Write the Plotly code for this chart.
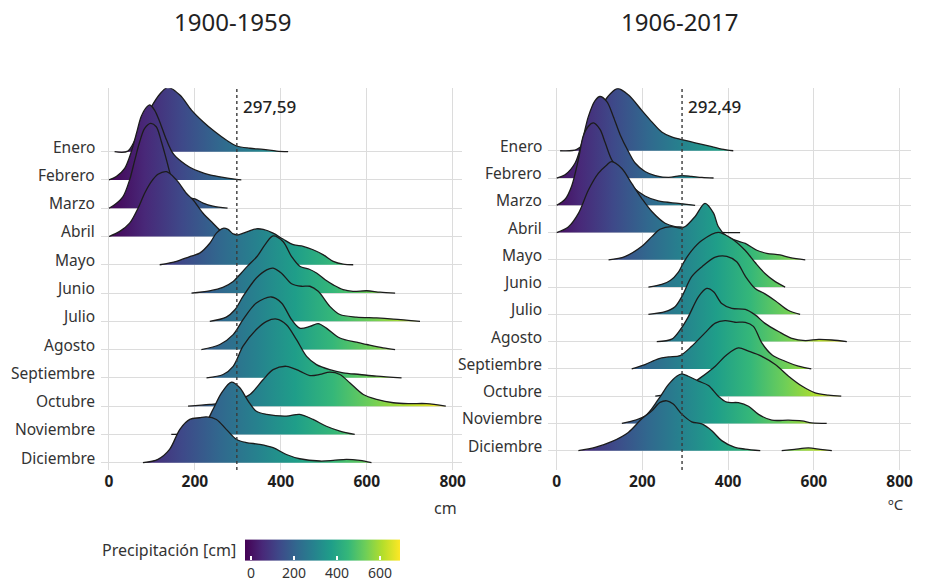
import plotly.graph_objects as go
import plotly.colors as pc

MONTHS = ["Enero", "Febrero", "Marzo", "Abril", "Mayo", "Junio", "Julio",
          "Agosto", "Septiembre", "Octubre", "Noviembre", "Diciembre"]

# ---- 1900-1959 : ridge outlines (x in cm, height in row units) ----
LEFT_X = [
    [13, 44, 71, 103, 122, 137, 165, 192, 219, 246, 273, 297, 328, 359, 390, 417],
    [0, 17, 36.5, 52, 64, 75, 87, 95, 106, 118, 134, 149, 168.5, 188, 211, 234.5, 265.6, 297, 308],
    [0, 13, 32.6, 48, 60, 71.5, 83, 97, 110, 122, 134, 145, 161, 180, 200, 219, 242, 276],
    [0, 25, 48, 67.6, 83, 98.6, 114, 134, 157, 180, 196, 219, 242, 262, 281, 300.6],
    [118, 157, 188, 211, 234.6, 250, 265.6, 277, 289, 300.6, 308, 324, 343, 359, 382, 405, 429, 452, 475, 499, 522, 545, 568.5],
    [192, 234, 265, 289, 308, 323, 345, 365, 382, 405, 425, 444, 465, 483, 505, 522, 545, 568, 600, 631, 666],
    [234.6, 273, 293, 312, 343, 367, 382, 401.6, 425, 448, 467.6, 487, 514, 537.5, 576, 623, 662, 724],
    [215, 258, 289, 312, 343, 378, 401.6, 425, 444, 467.6, 487, 506, 537.5, 576, 600, 638, 666],
    [227, 265.6, 289, 312, 343, 367, 390, 413, 436.5, 460, 483, 514, 545, 584, 623, 681],
    [184, 234.6, 273, 304.5, 328, 359, 382, 413, 444, 467.6, 491, 514, 537.5, 561, 592, 623, 662, 700.6, 739, 784],
    [145, 196, 223, 242, 262, 285, 304.5, 324, 343, 367, 413, 444, 475, 506, 537.5, 572],
    [79, 114, 141, 165, 188, 211, 227, 250, 273, 297, 320, 351, 382, 413, 444, 491, 522, 553, 584, 611],
]
LEFT_H = [
    [0, 0.02, 0.76, 1.7, 2.1, 2.27, 2.0, 1.47, 1.06, 0.71, 0.41, 0.2, 0.12, 0.08, 0.02, 0],
    [0, 0.12, 0.41, 1.0, 1.65, 2.24, 2.565, 2.65, 2.47, 2.06, 1.41, 0.94, 0.65, 0.45, 0.29, 0.18, 0.09, 0.02, 0],
    [0, 0.12, 0.41, 1.0, 1.7, 2.35, 2.82, 3.0, 2.88, 2.35, 1.7, 1.1, 0.65, 0.4, 0.33, 0.18, 0.07, 0],
    [0, 0.18, 0.47, 1.0, 1.53, 1.94, 2.2, 2.29, 2.0, 1.53, 1.29, 0.82, 0.47, 0.18, 0.05, 0],
    [0, 0.12, 0.29, 0.41, 0.76, 1.12, 1.29, 1.25, 1.09, 1.06, 1.09, 1.18, 1.27, 1.25, 1.12, 0.91, 0.71, 0.65, 0.53, 0.35, 0.12, 0.02, 0],
    [0, 0.08, 0.2, 0.41, 0.71, 0.96, 1.3, 1.75, 2.02, 1.82, 1.29, 0.95, 0.85, 0.71, 0.45, 0.29, 0.12, 0.06, 0.08, 0.03, 0],
    [0, 0.15, 0.41, 0.88, 1.53, 1.82, 1.88, 1.7, 1.33, 1.24, 1.24, 1.06, 0.53, 0.24, 0.15, 0.12, 0.08, 0],
    [0, 0.18, 0.53, 1.06, 1.65, 1.86, 1.65, 1.06, 0.76, 0.82, 0.92, 0.76, 0.41, 0.26, 0.18, 0.06, 0],
    [0, 0.12, 0.41, 1.12, 1.71, 2.0, 2.08, 1.88, 1.35, 0.76, 0.47, 0.29, 0.18, 0.12, 0.06, 0],
    [0, 0.06, 0.12, 0.24, 0.41, 0.94, 1.29, 1.41, 1.24, 1.08, 1.12, 1.2, 1.12, 0.82, 0.41, 0.24, 0.12, 0.09, 0.09, 0],
    [0, 0.06, 0.35, 0.88, 1.47, 1.85, 1.65, 1.18, 0.82, 0.71, 0.65, 0.71, 0.53, 0.29, 0.12, 0],
    [0, 0.12, 0.47, 1.18, 1.53, 1.59, 1.62, 1.53, 1.18, 0.82, 0.71, 0.65, 0.53, 0.29, 0.14, 0.06, 0.08, 0.12, 0.08, 0],
]

# ---- 1906-2017 ----
RIGHT_X = [
    [8, 47, 74, 97, 120, 142, 167, 198, 222, 245, 268, 292, 323, 362, 385, 412],
    [0, 19.5, 43, 58.4, 74, 89.5, 101, 117, 132, 148, 167, 183, 206, 230, 261, 292, 315, 339, 366],
    [0, 19.5, 35, 50.6, 62, 74, 85.6, 101, 113, 128, 148, 175, 206, 237, 284, 323],
    [0, 27, 51, 74, 97, 117, 128, 152, 175, 198, 222, 253, 276, 292, 315, 346, 377, 428],
    [121, 159, 198, 222, 241, 268, 288, 300, 323, 346, 366, 377, 397, 420, 440, 467, 490, 521, 545, 580],
    [214, 245, 265, 284, 296, 315, 338.5, 377, 408.6, 440, 463, 486, 510, 533],
    [214, 253, 276, 292, 315, 338.5, 370, 397, 420, 440, 463, 486, 510, 540, 568],
    [233.5, 268.5, 288, 307, 331, 350, 366, 385, 408.6, 440, 463, 486, 517.5, 548.6, 580, 611, 642, 677],
    [175, 206, 237, 261, 288, 315, 346, 370, 393, 416, 440, 459, 478.6, 502, 533, 564, 594],
    [230, 280, 310, 335, 370, 397, 424, 447.5, 478.6, 510, 541, 572, 603, 634, 664],
    [152, 206, 237, 261, 280, 292, 307, 331, 354, 377, 397, 424, 447.5, 471, 502, 541, 572, 595, 630],
    [50.6, 89.5, 128, 167, 198, 222, 241, 257, 272, 292, 315, 338.5, 362, 385, 416, 440, 475],
]
RIGHT_H = [
    [0, 0.05, 0.5, 1.4, 2.0, 2.28, 2.05, 1.49, 1.06, 0.69, 0.51, 0.41, 0.29, 0.15, 0.06, 0],
    [0, 0.12, 0.55, 1.28, 2.26, 2.84, 2.99, 2.8, 2.26, 1.59, 0.98, 0.55, 0.24, 0.09, 0.02, 0.09, 0.06, 0.02, 0],
    [0, 0.22, 0.71, 1.68, 2.54, 2.9, 3.02, 2.78, 2.3, 1.68, 1.25, 0.71, 0.34, 0.16, 0.07, 0],
    [0, 0.2, 0.71, 1.56, 2.17, 2.48, 2.6, 2.35, 1.8, 1.26, 0.77, 0.34, 0.22, 0.2, 0.1, 0.04, 0.01, 0],
    [0, 0.12, 0.49, 0.85, 1.12, 1.22, 1.16, 1.22, 1.59, 2.07, 1.71, 1.22, 0.85, 0.7, 0.6, 0.35, 0.24, 0.18, 0.08, 0],
    [0, 0.1, 0.24, 0.55, 0.9, 1.34, 1.71, 2.01, 1.77, 1.34, 0.9, 0.5, 0.2, 0],
    [0, 0.1, 0.28, 0.65, 1.38, 1.74, 2.1, 2.13, 1.93, 1.4, 0.95, 0.75, 0.5, 0.15, 0],
    [0, 0.09, 0.43, 0.91, 1.65, 1.95, 1.83, 1.4, 1.22, 1.18, 0.98, 0.67, 0.37, 0.12, 0.04, 0.08, 0.06, 0],
    [0, 0.16, 0.37, 0.44, 0.49, 0.83, 1.32, 1.68, 1.77, 1.71, 1.71, 1.56, 0.95, 0.52, 0.28, 0.1, 0],
    [0, 0.15, 0.4, 0.67, 1.1, 1.52, 1.77, 1.65, 1.46, 1.16, 0.73, 0.37, 0.12, 0.04, 0],
    [0, 0.27, 0.88, 1.43, 1.73, 1.82, 1.73, 1.55, 1.39, 1.0, 0.78, 0.76, 0.63, 0.33, 0.12, 0.12, 0.09, 0.02, 0],
    [0, 0.12, 0.33, 0.67, 1.16, 1.46, 1.77, 1.83, 1.71, 1.34, 1.06, 0.98, 0.73, 0.37, 0.12, 0.06, 0],
]
# isolated small December bump (1906-2017)
RIGHT_DIC_EXTRA_X = [525, 555, 587.5, 615, 642]
RIGHT_DIC_EXTRA_H = [0, 0.05, 0.1, 0.05, 0]

MEANS = [297.59, 292.49]
MEAN_LABELS = ["297,59", "292,49"]
TITLES = ["1900-1959", "1906-2017"]
AXIS_UNITS = ["cm", "ºC"]
X_TICKS = [0, 200, 400, 600, 800]
CBAR_TICKS = [0, 200, 400, 600]
CBAR_TITLE = "Precipitación [cm]"

FONT = "Noto Sans"
W, H = 925, 582
VIRIDIS = pc.sequential.Viridis
VSCALE = [[i / (len(VIRIDIS) - 1), c] for i, c in enumerate(VIRIDIS)]
GRAD_RANGES = [(-5, 785), (-28, 693)]
CB_RANGE = (-28, 693)

fig = go.Figure()

panels = [
    dict(xs=LEFT_X, hs=LEFT_H, xa="x", ya="y"),
    dict(xs=RIGHT_X, hs=RIGHT_H, xa="x2", ya="y2"),
]


def add_ridge(xa, ya, xs, hs, base, grad):
    fig.add_trace(go.Scatter(x=[xs[0], xs[-1]], y=[base, base], mode="lines",
                             line=dict(width=0, color="rgba(0,0,0,0)"),
                             xaxis=xa, yaxis=ya, hoverinfo="skip", showlegend=False))
    fig.add_trace(go.Scatter(x=xs, y=[base + h for h in hs], mode="lines",
                             line=dict(color="#1c1c1c", width=1.3, shape="spline", smoothing=0.9),
                             fill="tonexty",
                             fillgradient=dict(type="horizontal", colorscale=VSCALE,
                                               start=grad[0], stop=grad[1]),
                             xaxis=xa, yaxis=ya, hoverinfo="skip", showlegend=False))


for p, panel in enumerate(panels):
    for i, m in enumerate(MONTHS):
        base = 11 - i
        add_ridge(panel["xa"], panel["ya"], panel["xs"][i], panel["hs"][i], base, GRAD_RANGES[p])
        if p == 1 and m == "Diciembre":
            add_ridge(panel["xa"], panel["ya"], RIGHT_DIC_EXTRA_X, RIGHT_DIC_EXTRA_H, base, GRAD_RANGES[p])

# colorbar carrier
fig.add_trace(go.Scatter(
    x=[-1000], y=[-1000], mode="markers", xaxis="x", yaxis="y", hoverinfo="skip",
    showlegend=False,
    marker=dict(size=1, color=[0], colorscale=VSCALE, cmin=CB_RANGE[0], cmax=CB_RANGE[1],
                showscale=True,
                colorbar=dict(orientation="h", x=322.5 / W, xanchor="center",
                              y=1 - 563 / H, yanchor="middle", thickness=21,
                              len=155, lenmode="pixels", outlinewidth=0,
                              xpad=0, ypad=0, tickvals=CBAR_TICKS,
                              ticks="inside", ticklen=4, tickcolor="white",
                              tickwidth=1.5,
                              tickfont=dict(family=FONT, size=14, color="#333")))))

# axes
xdoms = [[100.7 / W, 461.7 / W], [548.3 / W, 910.7 / W]]
yrng = [[-0.258, 13.24], [-0.708, 13.29]]
ydom = [1 - 470 / H, 1 - 88.3 / H]
xrng = [[-19.3, 821], [-19.6, 826]]
for p in range(2):
    sfx = "" if p == 0 else "2"
    fig.layout["xaxis" + sfx] = dict(
        domain=xdoms[p], range=xrng[p], tickvals=X_TICKS, showgrid=True,
        gridcolor="#dcdcdc", gridwidth=1.3, zeroline=False, showline=False,
        ticks="", tickfont=dict(family=FONT, size=15.5, color="#1e1e1e", weight="bold"),
        anchor="y" + sfx, fixedrange=True)
    fig.layout["yaxis" + sfx] = dict(
        domain=ydom, range=yrng[p], tickvals=list(range(12)), showticklabels=False,
        showgrid=True, gridcolor="#dcdcdc", gridwidth=1.3, zeroline=False,
        anchor="x" + sfx, fixedrange=True)

shapes = []
annotations = []
for p in range(2):
    sfx = "" if p == 0 else "2"
    shapes.append(dict(type="line", xref="x" + sfx, yref="y" + sfx + " domain",
                       x0=MEANS[p], x1=MEANS[p], y0=0, y1=1,
                       line=dict(color="#3a3a3a", width=1.4, dash="3px,3px")))
    annotations.append(dict(xref="x" + sfx, yref="paper", x=MEANS[p], y=1 - 106 / H,
                            text=MEAN_LABELS[p], showarrow=False, xanchor="left",
                            yanchor="middle", xshift=4,
                            font=dict(family=FONT, size=17, color="#222", weight=500)))
    for i, m in enumerate(MONTHS):
        annotations.append(dict(xref="paper", yref="y" + sfx,
                                x=(xdoms[p][0] * W - 4) / W, y=11 - i, text=m,
                                showarrow=False, xanchor="right", yanchor="middle",
                                yshift=5, font=dict(family=FONT, size=15.5, color="#333")))

annotations += [
    dict(xref="paper", yref="paper", x=233 / W, y=1 - 22 / H, text=TITLES[0], showarrow=False,
         xanchor="center", yanchor="middle", font=dict(family=FONT, size=24, color="#222")),
    dict(xref="paper", yref="paper", x=680 / W, y=1 - 22 / H, text=TITLES[1], showarrow=False,
         xanchor="center", yanchor="middle", font=dict(family=FONT, size=24, color="#222")),
    dict(xref="paper", yref="paper", x=445 / W, y=1 - 508 / H, text=AXIS_UNITS[0], showarrow=False,
         xanchor="center", yanchor="middle", font=dict(family=FONT, size=16, color="#333")),
    dict(xref="paper", yref="paper", x=896 / W, y=1 - 504 / H, text=AXIS_UNITS[1], showarrow=False,
         xanchor="center", yanchor="middle", font=dict(family=FONT, size=15, color="#333")),
    dict(xref="paper", yref="paper", x=238 / W, y=1 - 550 / H, text=CBAR_TITLE, showarrow=False,
         xanchor="right", yanchor="middle", font=dict(family=FONT, size=16, color="#333")),
]

fig.update_layout(width=W, height=H, margin=dict(l=0, r=0, t=0, b=0, autoexpand=False),
                  plot_bgcolor="white", paper_bgcolor="white", showlegend=False,
                  shapes=shapes, annotations=annotations,
                  font=dict(family=FONT))

fig.write_html("out.html")
